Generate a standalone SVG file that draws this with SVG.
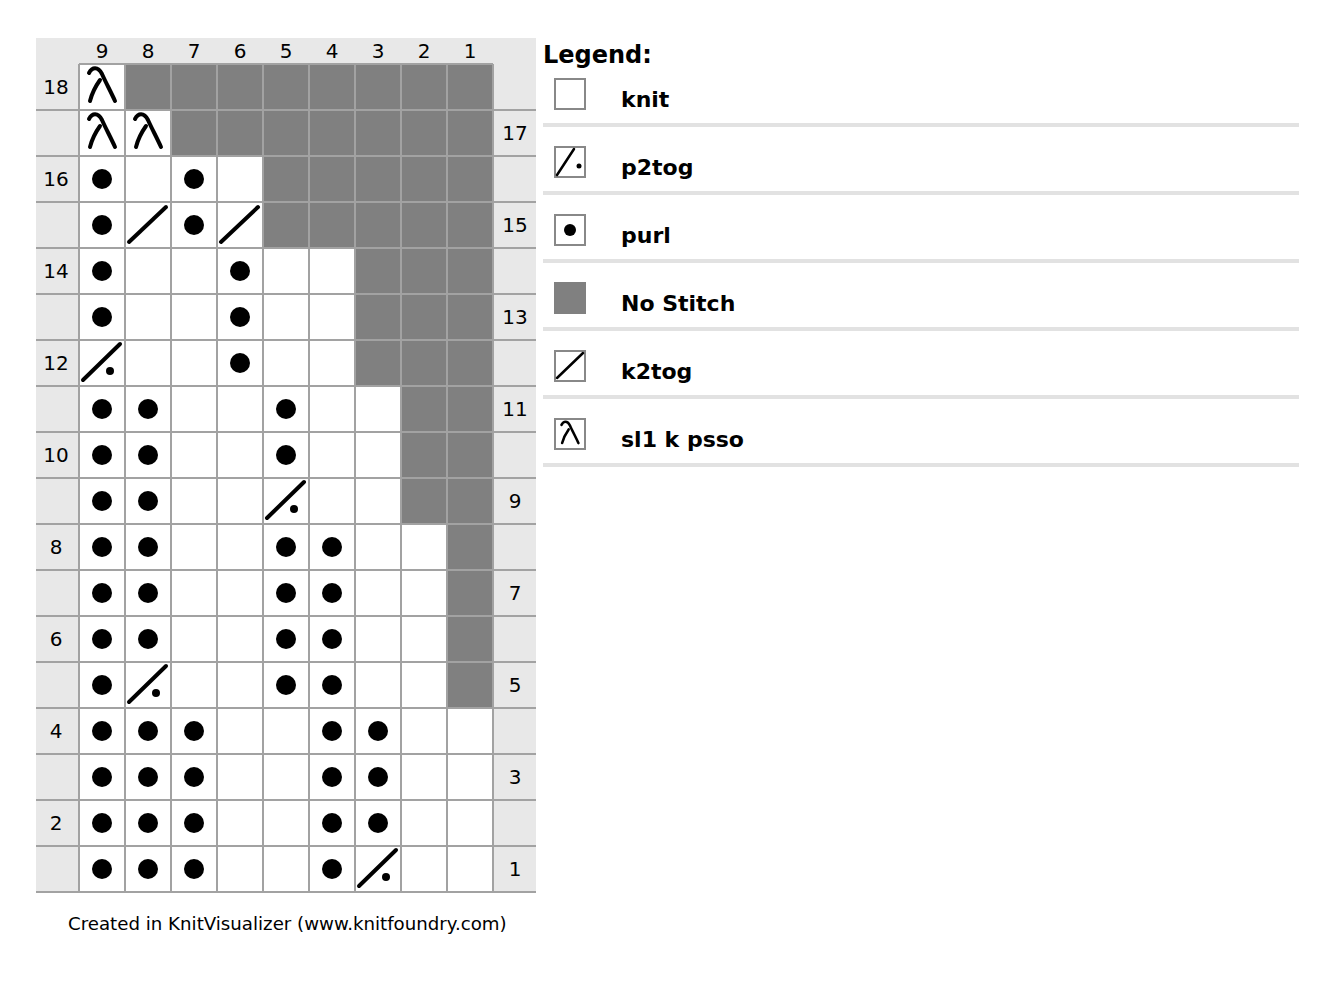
<svg xmlns="http://www.w3.org/2000/svg" xmlns:xlink="http://www.w3.org/1999/xlink" width="1338" height="998" viewBox="0 0 1338 998">
<style>
text{font-family:"DejaVu Sans","Liberation Sans",sans-serif;fill:#000}
.num{font-size:20px;text-anchor:middle}
.lg{font-size:22px;font-weight:bold}
.gl{stroke:#a2a2a2;stroke-width:2;fill:none}
.sym{stroke:#000;stroke-width:4;stroke-linecap:round;fill:none}
.sep{stroke:#e2e2e2;stroke-width:4}
.ib{fill:#fff;stroke:#888;stroke-width:2}
</style>
<defs>
<g id="pu"><circle cx="23" cy="23" r="10" fill="#000"/></g>
<g id="k2"><line class="sym" x1="4" y1="40" x2="41" y2="5"/></g>
<g id="p2"><line class="sym" x1="4" y1="40" x2="41" y2="4"/><circle cx="31" cy="31" r="4" fill="#000"/></g>
<g id="lam"><path class="sym" d="M10,9 C13,3 19,2 23,10 C27,19 32,28 36,37"/><path class="sym" d="M21,16 C16,23 13,29 11,37"/></g>
</defs>
<rect width="1338" height="998" fill="#fff"/>
<g id="chart">
<rect x="36" y="38" width="500" height="854" fill="#e8e8e8"/>
<rect x="79" y="64" width="414" height="828" fill="#fff"/>
<path d="M125,64 H493 V708 H447 V524 H401 V386 H355 V248 H263 V156 H171 V110 H125 Z" fill="#808080"/>
<g class="gl">
<path d="M79,64V892M125,64V892M171,64V892M217,64V892M263,64V892M309,64V892M355,64V892M401,64V892M447,64V892M493,64V892"/>
<path d="M79,64H493M36,110H536M36,156H536M36,202H536M36,248H536M36,294H536M36,340H536M36,386H536M36,432H536M36,478H536M36,524H536M36,570H536M36,616H536M36,662H536M36,708H536M36,754H536M36,800H536M36,846H536M36,892H536"/>
</g>
<g id="colnums">
<text class="num" x="102" y="58">9</text><text class="num" x="148" y="58">8</text><text class="num" x="194" y="58">7</text><text class="num" x="240" y="58">6</text><text class="num" x="286" y="58">5</text><text class="num" x="332" y="58">4</text><text class="num" x="378" y="58">3</text><text class="num" x="424" y="58">2</text><text class="num" x="470" y="58">1</text>
</g>
<g id="rownums">
<text class="num" x="56" y="94">18</text>
<text class="num" x="515" y="140">17</text>
<text class="num" x="56" y="186">16</text>
<text class="num" x="515" y="232">15</text>
<text class="num" x="56" y="278">14</text>
<text class="num" x="515" y="324">13</text>
<text class="num" x="56" y="370">12</text>
<text class="num" x="515" y="416">11</text>
<text class="num" x="56" y="462">10</text>
<text class="num" x="515" y="508">9</text>
<text class="num" x="56" y="554">8</text>
<text class="num" x="515" y="600">7</text>
<text class="num" x="56" y="646">6</text>
<text class="num" x="515" y="692">5</text>
<text class="num" x="56" y="738">4</text>
<text class="num" x="515" y="784">3</text>
<text class="num" x="56" y="830">2</text>
<text class="num" x="515" y="876">1</text>
</g>
<g id="stitches">
<use xlink:href="#lam" x="79" y="64"/>
<use xlink:href="#lam" x="79" y="110"/><use xlink:href="#lam" x="125" y="110"/>
<use xlink:href="#pu" x="79" y="156"/><use xlink:href="#pu" x="171" y="156"/>
<use xlink:href="#pu" x="79" y="202"/><use xlink:href="#k2" x="125" y="202"/><use xlink:href="#pu" x="171" y="202"/><use xlink:href="#k2" x="217" y="202"/>
<use xlink:href="#pu" x="79" y="248"/><use xlink:href="#pu" x="217" y="248"/>
<use xlink:href="#pu" x="79" y="294"/><use xlink:href="#pu" x="217" y="294"/>
<use xlink:href="#p2" x="79" y="340"/><use xlink:href="#pu" x="217" y="340"/>
<use xlink:href="#pu" x="79" y="386"/><use xlink:href="#pu" x="125" y="386"/><use xlink:href="#pu" x="263" y="386"/>
<use xlink:href="#pu" x="79" y="432"/><use xlink:href="#pu" x="125" y="432"/><use xlink:href="#pu" x="263" y="432"/>
<use xlink:href="#pu" x="79" y="478"/><use xlink:href="#pu" x="125" y="478"/><use xlink:href="#p2" x="263" y="478"/>
<use xlink:href="#pu" x="79" y="524"/><use xlink:href="#pu" x="125" y="524"/><use xlink:href="#pu" x="263" y="524"/><use xlink:href="#pu" x="309" y="524"/>
<use xlink:href="#pu" x="79" y="570"/><use xlink:href="#pu" x="125" y="570"/><use xlink:href="#pu" x="263" y="570"/><use xlink:href="#pu" x="309" y="570"/>
<use xlink:href="#pu" x="79" y="616"/><use xlink:href="#pu" x="125" y="616"/><use xlink:href="#pu" x="263" y="616"/><use xlink:href="#pu" x="309" y="616"/>
<use xlink:href="#pu" x="79" y="662"/><use xlink:href="#p2" x="125" y="662"/><use xlink:href="#pu" x="263" y="662"/><use xlink:href="#pu" x="309" y="662"/>
<use xlink:href="#pu" x="79" y="708"/><use xlink:href="#pu" x="125" y="708"/><use xlink:href="#pu" x="171" y="708"/><use xlink:href="#pu" x="309" y="708"/><use xlink:href="#pu" x="355" y="708"/>
<use xlink:href="#pu" x="79" y="754"/><use xlink:href="#pu" x="125" y="754"/><use xlink:href="#pu" x="171" y="754"/><use xlink:href="#pu" x="309" y="754"/><use xlink:href="#pu" x="355" y="754"/>
<use xlink:href="#pu" x="79" y="800"/><use xlink:href="#pu" x="125" y="800"/><use xlink:href="#pu" x="171" y="800"/><use xlink:href="#pu" x="309" y="800"/><use xlink:href="#pu" x="355" y="800"/>
<use xlink:href="#pu" x="79" y="846"/><use xlink:href="#pu" x="125" y="846"/><use xlink:href="#pu" x="171" y="846"/><use xlink:href="#pu" x="309" y="846"/><use xlink:href="#p2" x="355" y="846"/>
</g>
</g>
<g id="legend">
<text x="543" y="63" style="font-size:24px;font-weight:bold">Legend:</text>
<g id="leg-knit"><rect class="ib" x="555" y="79" width="30" height="30"/><text class="lg" x="621" y="107">knit</text><line class="sep" x1="543" y1="125" x2="1299" y2="125"/></g>
<g id="leg-p2tog"><rect class="ib" x="555" y="147" width="30" height="30"/><line x1="557" y1="175" x2="574" y2="149" stroke="#000" stroke-width="2.5" stroke-linecap="round"/><circle cx="579" cy="166" r="2.5" fill="#000"/><text class="lg" x="621" y="175">p2tog</text><line class="sep" x1="543" y1="193" x2="1299" y2="193"/></g>
<g id="leg-purl"><rect class="ib" x="555" y="215" width="30" height="30"/><circle cx="570" cy="230" r="6" fill="#000"/><text class="lg" x="621" y="243">purl</text><line class="sep" x1="543" y1="261" x2="1299" y2="261"/></g>
<g id="leg-nostitch"><rect x="554" y="282" width="32" height="32" fill="#808080"/><text class="lg" x="621" y="311">No Stitch</text><line class="sep" x1="543" y1="329" x2="1299" y2="329"/></g>
<g id="leg-k2tog"><rect class="ib" x="555" y="351" width="30" height="30"/><line x1="557" y1="378" x2="583" y2="353" stroke="#000" stroke-width="2.5" stroke-linecap="round"/><text class="lg" x="621" y="379">k2tog</text><line class="sep" x1="543" y1="397" x2="1299" y2="397"/></g>
<g id="leg-sl1kpsso"><rect class="ib" x="555" y="419" width="30" height="30"/><g transform="translate(555,419) scale(0.65)"><path d="M10,9 C13,3 19,2 23,10 C27,19 32,28 36,37" stroke="#000" stroke-width="4" stroke-linecap="round" fill="none"/><path d="M21,16 C16,23 13,29 11,37" stroke="#000" stroke-width="4" stroke-linecap="round" fill="none"/></g><text class="lg" x="621" y="447">sl1 k psso</text><line class="sep" x1="543" y1="465" x2="1299" y2="465"/></g>
</g>
<text id="footer" x="68" y="930" style="font-size:18.2px">Created in KnitVisualizer (www.knitfoundry.com)</text>
</svg>
